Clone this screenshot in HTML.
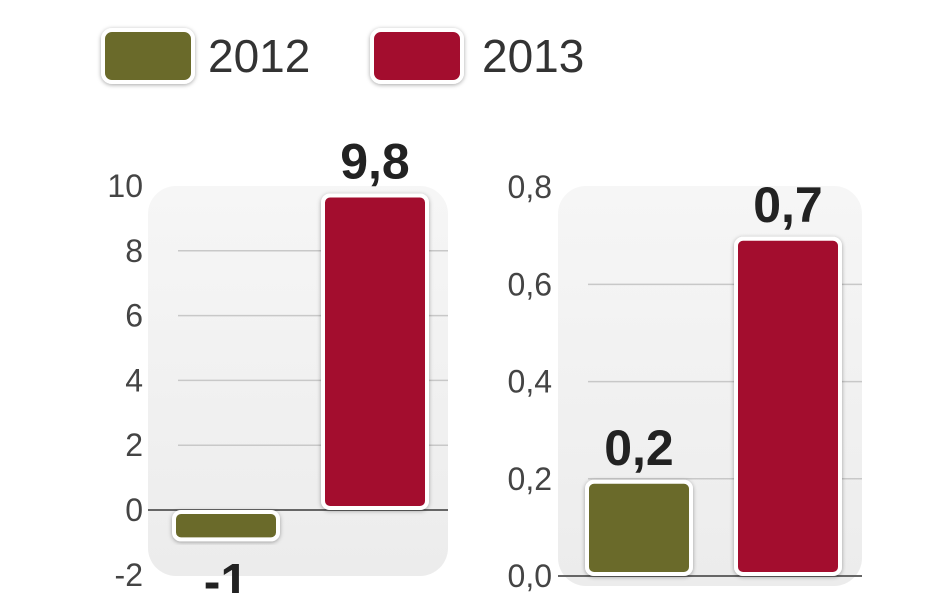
<!DOCTYPE html>
<html><head><meta charset="utf-8"><style>
html,body{margin:0;padding:0;background:#fff;width:948px;height:593px;overflow:hidden}
svg text{font-family:"Liberation Sans",sans-serif}
</style></head><body>
<svg width="948" height="593" xmlns="http://www.w3.org/2000/svg" id="chart">
<defs>
<filter id="sh" x="-20%" y="-20%" width="140%" height="140%"><feDropShadow dx="0" dy="1" stdDeviation="2" flood-color="#000" flood-opacity="0.35"/></filter>
<linearGradient id="bg" x1="0" y1="0" x2="0" y2="1"><stop offset="0" stop-color="#f6f6f6"/><stop offset="1" stop-color="#ececec"/></linearGradient>
</defs>
<g>
<rect x="103" y="30" width="90" height="52" rx="9" fill="#6b6a2a" stroke="#fff" stroke-width="4" filter="url(#sh)"/>
<text x="208" y="72" font-size="46" fill="#333">2012</text>
<rect x="372" y="30" width="90" height="52" rx="9" fill="#a30d2d" stroke="#fff" stroke-width="4" filter="url(#sh)"/>
<text x="482" y="72" font-size="46" fill="#333">2013</text>
</g>
<g id="left"></g>
<g id="right"></g>
</svg>
<script>
const leftCategories = ["2012","2013"];
const leftValues = [-1, 9.8];
const leftLabels = ["-1","9,8"];
const leftTicks = [-2,0,2,4,6,8,10];
const leftTickLabels = ["-2","0","2","4","6","8","10"];
const rightCategories = ["2012","2013"];
const rightValues = [0.2, 0.7];
const rightLabels = ["0,2","0,7"];
const rightTicks = [0,0.2,0.4,0.6,0.8];
const rightTickLabels = ["0,0","0,2","0,4","0,6","0,8"];
const colors = ["#6b6a2a","#a30d2d"];
const NS="http://www.w3.org/2000/svg";
function mk(p,tag,attrs){const e=document.createElementNS(NS,tag);for(const k in attrs)e.setAttribute(k,attrs[k]);p.appendChild(e);return e;}
function drawChart(g,cfg,cats,vals,labels,ticks,tickLabels){
  const y=v=>cfg.y0-v*cfg.k;
  const bgEl=mk(g,'rect',{x:cfg.px,y:cfg.py,width:cfg.pw,height:cfg.ph,rx:28,fill:'url(#bg)'});
  
  
  ticks.forEach((t,i)=>{
    const yy=y(t);
    if(t!==ticks[0] && t!==ticks[ticks.length-1] || t===0){
      const ln=mk(g,'line',{x1:cfg.px+(t===0?0:30),x2:cfg.px+cfg.pw,y1:yy,y2:yy,stroke:t===0?'#666':'#c8c8c8','stroke-width':t===0?2:1.5});
      
      
    }
    const tx=mk(g,'text',{x:cfg.lx,y:yy+11,'font-size':32,fill:'#444','text-anchor':'end'});
    tx.textContent=tickLabels[i];
    
    
  });
  vals.forEach((v,i)=>{
    const x=cfg.bx[i];
    const top=Math.min(y(v),y(0)), h=Math.abs(y(v)-y(0));
    const r=mk(g,'rect',{x:x,y:top+(v>=0?3:2),width:cfg.bw,height:Math.max(h-5,2),rx:7,fill:colors[i],stroke:'#fff','stroke-width':4,filter:'url(#sh)'});
    
    
    const ly=v>=0?y(v)-14:y(v)+56;
    const t=mk(g,'text',{x:x+cfg.bw/2,y:ly,'font-size':50,'font-weight':'bold',fill:'#222','text-anchor':'middle'});
    t.textContent=labels[i];
    
    
  });
}
drawChart(document.getElementById('left'),{y0:510,k:32.4,px:148,py:186,pw:300,ph:390,lx:143,bx:[174,323],bw:104},leftCategories,leftValues,leftLabels,leftTicks,leftTickLabels);
drawChart(document.getElementById('right'),{y0:576,k:486,px:558,py:186,pw:304,ph:400,lx:552,bx:[587,736],bw:104},rightCategories,rightValues,rightLabels,rightTicks,rightTickLabels);
</script>
</body></html>
